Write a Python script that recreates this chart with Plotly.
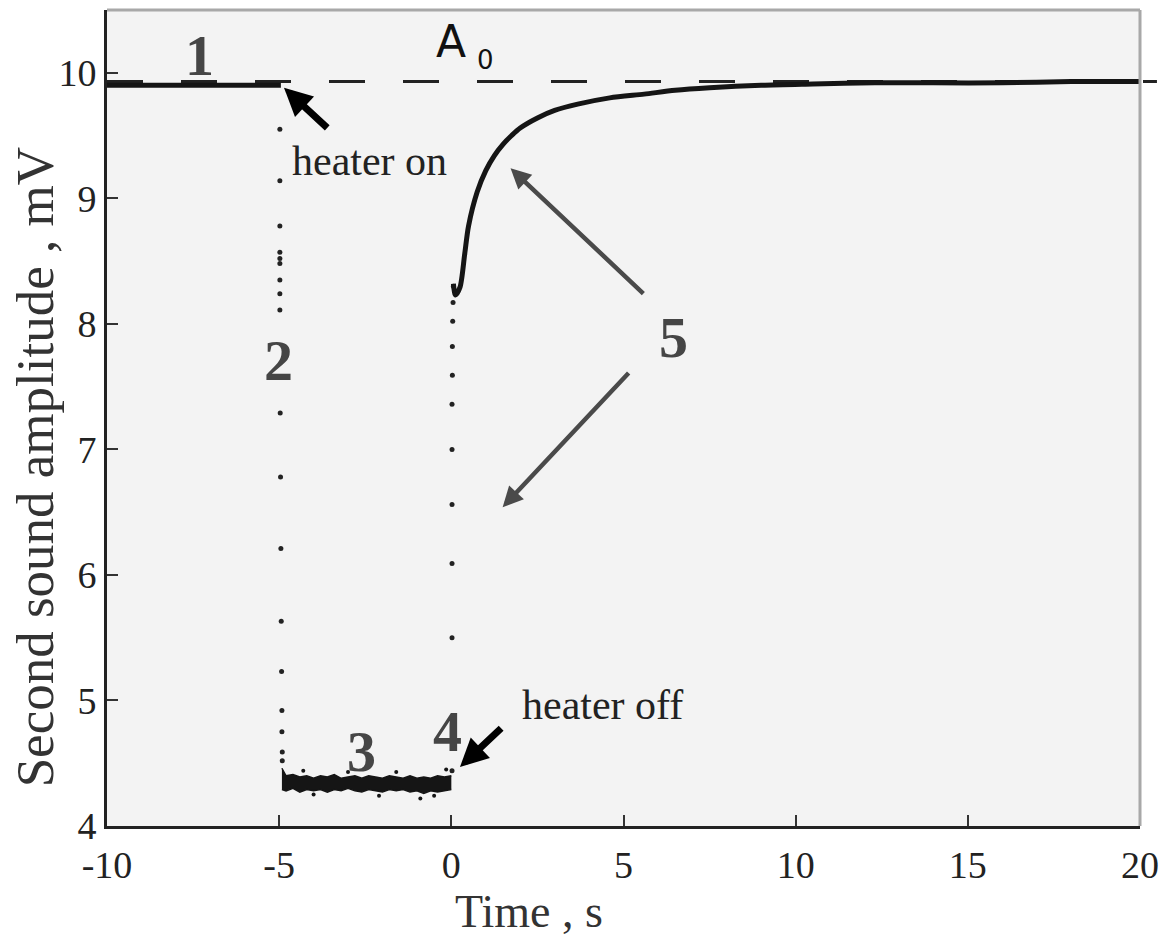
import plotly.graph_objects as go

# Reference amplitude A0 (dashed line)
a0_level = 9.93

# 1: before the heater pulse
seg1_t = [-10.0, -9.0, -8.0, -7.0, -6.0, -5.5, -4.95]
seg1_v = [9.90, 9.905, 9.90, 9.90, 9.905, 9.90, 9.90]

# 2: sparse samples while the amplitude drops (heater on)
seg2_t = [-4.98, -4.98, -4.98, -4.98, -4.98, -4.98, -4.98, -4.98, -4.98,
          -4.97, -4.96, -4.95, -4.94, -4.93, -4.92, -4.92, -4.91, -4.91]
seg2_v = [9.55, 9.14, 8.78, 8.57, 8.52, 8.48, 8.35, 8.24, 8.11,
          7.29, 6.78, 6.21, 5.63, 5.23, 4.92, 4.75, 4.59, 4.52]

# 3: low plateau while the heater is on (upper / lower edge of the noisy band)
seg3_t = [-4.92, -4.8, -4.6, -4.4, -4.2, -4.0, -3.8, -3.6, -3.4, -3.2, -3.0, -2.8, -2.6,
          -2.4, -2.2, -2.0, -1.8, -1.6, -1.4, -1.2, -1.0, -0.8, -0.6, -0.4, -0.2, 0.0]
seg3_hi = [4.46, 4.40, 4.41, 4.39, 4.40, 4.38, 4.40, 4.39, 4.41, 4.38, 4.39, 4.40, 4.38,
           4.40, 4.39, 4.38, 4.40, 4.39, 4.38, 4.40, 4.38, 4.39, 4.38, 4.40, 4.39, 4.40]
seg3_lo = [4.29, 4.28, 4.30, 4.27, 4.29, 4.28, 4.29, 4.27, 4.29, 4.28, 4.30, 4.28, 4.27,
           4.29, 4.28, 4.27, 4.29, 4.28, 4.29, 4.27, 4.28, 4.26, 4.28, 4.27, 4.28, 4.29]
seg3_out_t = [-4.3, -4.0, -3.0, -2.1, -1.6, -0.9, -0.5, -0.15]
seg3_out_v = [4.44, 4.25, 4.43, 4.24, 4.43, 4.22, 4.24, 4.45]

# 4: sparse samples of the jump after the heater is switched off
seg4_t = [0.02, 0.02, 0.02, 0.02, 0.02, 0.02, 0.03, 0.03, 0.04, 0.05, 0.06]
seg4_v = [4.44, 5.50, 6.09, 6.56, 7.00, 7.36, 7.59, 7.82, 8.02, 8.17, 8.30]

# 5: recovery towards A0
seg5_t = [0.06, 0.12, 0.25, 0.39, 0.5, 0.75, 1.0, 1.25, 1.5, 1.75, 2.0, 2.5, 3.0,
          3.67, 4.6, 5.6, 6.5, 7.5, 9.0, 10.5, 12.3, 14.0, 16.0, 18.0, 20.0]
seg5_v = [8.32, 8.23, 8.29, 8.56, 8.78, 9.05, 9.22, 9.34, 9.43, 9.50, 9.56, 9.64, 9.70,
          9.75, 9.80, 9.83, 9.86, 9.88, 9.90, 9.91, 9.92, 9.92, 9.92, 9.93, 9.93]

# Axis ticks
x_ticks = [-10, -5, 0, 5, 10, 15, 20]
x_tick_text = ["-10", "-5", "0", "5", "10", "15", "20"]
y_ticks = [4, 5, 6, 7, 8, 9, 10]
y_tick_text = ["4", "5", "6", "7", "8", "9", "10"]

INK = "#151515"
SERIF = "Liberation Serif, Times New Roman, serif"

fig = go.Figure()

fig.add_trace(go.Scatter(x=seg1_t, y=seg1_v, mode="lines",
                         line=dict(color=INK, width=5)))
fig.add_trace(go.Scatter(x=seg2_t, y=seg2_v, mode="markers",
                         marker=dict(color="#222", size=5)))
fig.add_trace(go.Scatter(x=seg3_t, y=seg3_lo, mode="lines",
                         line=dict(color=INK, width=1.5)))
fig.add_trace(go.Scatter(x=seg3_t, y=seg3_hi, mode="lines", fill="tonexty",
                         fillcolor=INK, line=dict(color=INK, width=1.5)))
fig.add_trace(go.Scatter(x=seg3_out_t, y=seg3_out_v, mode="markers",
                         marker=dict(color=INK, size=4)))
fig.add_trace(go.Scatter(x=seg4_t, y=seg4_v, mode="markers",
                         marker=dict(color="#222", size=5)))
fig.add_trace(go.Scatter(x=seg5_t, y=seg5_v, mode="lines",
                         line=dict(color=INK, width=5, shape="spline", smoothing=0.8)))

# A0 dashed reference line, slightly overhanging the right frame
fig.add_shape(type="line", xref="paper", yref="y", x0=0, x1=1.0164,
              y0=a0_level, y1=a0_level, layer="below",
              line=dict(color="#222", width=3, dash="36px,38px"))

# Region numbers
labels = [("1", -7.31, 10.14), ("2", -5.03, 7.71), ("3", -2.61, 4.59),
          ("4", -0.10, 4.75), ("5", 6.46, 7.89)]
for txt, lx, ly in labels:
    fig.add_annotation(x=lx, y=ly, text=f"<b>{txt}</b>", showarrow=False,
                       font=dict(family=SERIF, size=58, color="#454545"))

fig.add_annotation(x=0.0, y=10.25, text="A", showarrow=False,
                   font=dict(family="DejaVu Sans, Arial, sans-serif", size=44, color="#111"))
fig.add_annotation(x=1.0, y=10.10, text="0", showarrow=False,
                   font=dict(family="DejaVu Sans, Arial, sans-serif", size=26, color="#111"))

fig.add_annotation(x=-2.38, y=9.30, text="heater on", showarrow=False,
                   font=dict(family=SERIF, size=42, color="#222"))
fig.add_annotation(x=4.38, y=4.96, text="heater off", showarrow=False,
                   font=dict(family=SERIF, size=42, color="#222"))

# Arrows: (tip x, tip y, tail x, tail y, colour, width, size)
arrows = [(-4.86, 9.88, -3.56, 9.55, "#000", 7, 0.8),
          (0.25, 4.47, 1.49, 4.79, "#000", 7, 0.8),
          (1.72, 9.24, 5.62, 8.23, "#4a4a4a", 4.5, 0.9),
          (1.49, 6.54, 5.19, 7.62, "#4a4a4a", 4.5, 0.9)]
for tx, ty, sx, sy, col, w, sz in arrows:
    fig.add_annotation(x=tx, y=ty, ax=sx, ay=sy, axref="x", ayref="y", xref="x", yref="y",
                       text="", showarrow=True, arrowhead=2, arrowsize=sz,
                       arrowwidth=w, arrowcolor=col, standoff=0)

# Axis titles
fig.add_annotation(xref="paper", yref="paper", x=0.409, y=-0.105, text="Time , s",
                   xanchor="center", yanchor="middle",
                   showarrow=False, font=dict(family=SERIF, size=46, color="#333"))
fig.add_annotation(xref="paper", yref="paper", x=-0.0693, y=0.44,
                   text="Second sound amplitude , mV", textangle=-90,
                   xanchor="center", yanchor="middle",
                   showarrow=False, font=dict(family=SERIF, size=53, color="#333"))

# Light frame on top and right
fig.add_shape(type="line", xref="paper", yref="paper", x0=0, x1=1, y0=1, y1=1,
              line=dict(color="#a8a8a8", width=3))
fig.add_shape(type="line", xref="paper", yref="paper", x0=1, x1=1, y0=0, y1=1,
              line=dict(color="#a8a8a8", width=3))

fig.update_layout(
    width=1169, height=942, autosize=False,
    margin=dict(l=107, r=23, t=10, b=116),
    paper_bgcolor="white", plot_bgcolor="#f3f3f3",
    showlegend=False,
    font=dict(family=SERIF, color="#222"),
)
fig.update_xaxes(range=[-10, 20], tickvals=x_ticks, ticktext=x_tick_text,
                 ticks="inside", ticklen=11, tickwidth=2, tickcolor="#333",
                 showline=True, linecolor="#222", linewidth=3, showgrid=False, zeroline=False,
                 tickfont=dict(family=SERIF, size=38, color="#222"), ticklabelstandoff=3)
fig.update_yaxes(range=[4, 10.5], tickvals=y_ticks, ticktext=y_tick_text,
                 ticks="inside", ticklen=11, tickwidth=2, tickcolor="#333",
                 showline=True, linecolor="#222", linewidth=3, showgrid=False, zeroline=False,
                 tickfont=dict(family=SERIF, size=38, color="#222"))

fig.write_html("out.html")
